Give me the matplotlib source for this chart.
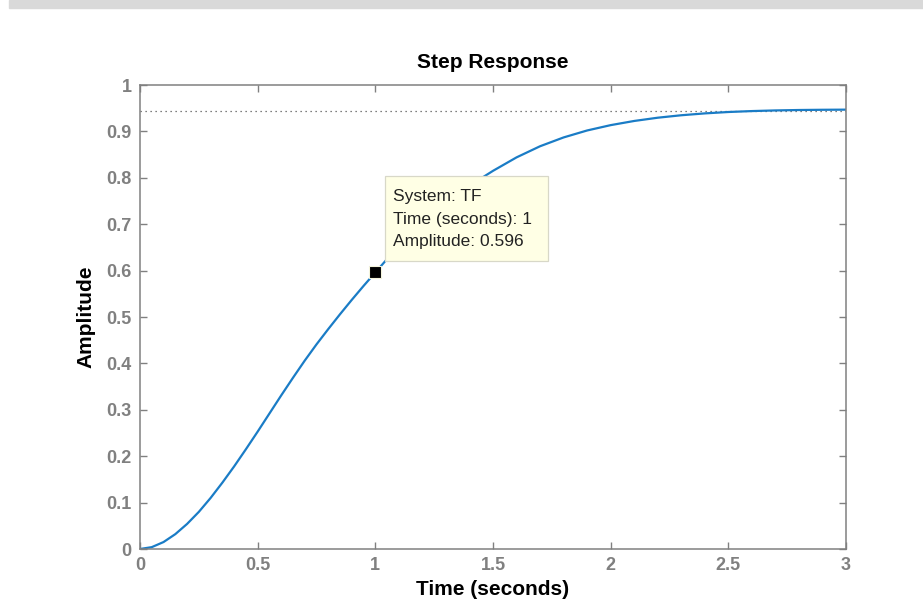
import numpy as np
import matplotlib.pyplot as plt
from matplotlib.patches import Rectangle

plt.rcParams['font.family'] = ['Liberation Sans', 'DejaVu Sans']

# step response
t = [0, 0.05, 0.1, 0.15, 0.2, 0.25, 0.3, 0.35, 0.4, 0.45, 0.5, 0.55, 0.6, 0.65,
     0.7, 0.75, 0.8, 0.85, 0.9, 0.95, 1.0, 1.05, 1.1, 1.15, 1.2, 1.25, 1.3, 1.35,
     1.4, 1.45, 1.5, 1.6, 1.7, 1.8, 1.9, 2.0, 2.1, 2.2, 2.3, 2.4, 2.5, 2.6, 2.7,
     2.8, 2.9, 3.0]
amp = [0, 0.004, 0.015, 0.032, 0.054, 0.080, 0.110, 0.143, 0.178, 0.215, 0.253,
       0.292, 0.331, 0.369, 0.406, 0.441, 0.474, 0.506, 0.537, 0.567, 0.596,
       0.625, 0.652, 0.677, 0.701, 0.723, 0.744, 0.764, 0.782, 0.799, 0.815,
       0.844, 0.868, 0.887, 0.902, 0.9135, 0.9225, 0.9295, 0.9348, 0.9388,
       0.9418, 0.9438, 0.9452, 0.9461, 0.9466, 0.9469]
final_value = 0.945
tip_t = 1
tip_amp = 0.596
tip_lines = ['System: TF', 'Time (seconds): 1', 'Amplitude: 0.596']

xticks = [0, 0.5, 1, 1.5, 2, 2.5, 3]
xticklabels = ['0', '0.5', '1', '1.5', '2', '2.5', '3']
yticks = [0, 0.1, 0.2, 0.3, 0.4, 0.5, 0.6, 0.7, 0.8, 0.9, 1]
yticklabels = ['0', '0.1', '0.2', '0.3', '0.4', '0.5', '0.6', '0.7', '0.8', '0.9', '1']

fig = plt.figure(figsize=(9.23, 6.10), dpi=100)
# grey strip along the top edge
fig.patches.append(Rectangle((9/923, 1-8/610), 1, 8/610, transform=fig.transFigure,
                             color='#d9d9d9', zorder=0))
ax = fig.add_axes([140/923, 1-549/610, 706/923, 464/610])

ax.plot([0, 3], [final_value, final_value], color='#555555', lw=0.9,
        linestyle=(0, (1, 3)), zorder=1)
ax.plot(t, amp, color='#1a7cc6', lw=1.6, zorder=2)

# data tip
ax.plot(tip_t, tip_amp, 's', color='black', ms=8.5, mec='#f4f4dc', mew=0.8, zorder=5)
ax.add_patch(Rectangle((1.041, 0.621), 0.693, 0.183, facecolor='#ffffe5',
                       edgecolor='#d8d8c8', lw=0.9, zorder=4))
for i, s in enumerate(tip_lines):
    ax.text(1.075, 0.749 - i*0.0475, s, fontsize=12.5, color='#222222',
            va='baseline', ha='left', zorder=6)

ax.set_xlim(0, 3)
ax.set_ylim(0, 1)
ax.set_xticks(xticks)
ax.set_xticklabels(xticklabels)
ax.set_yticks(yticks)
ax.set_yticklabels(yticklabels)
for sp in ax.spines.values():
    sp.set_color('#808080')
    sp.set_linewidth(1.1)
ax.tick_params(direction='in', top=True, right=True, length=5, width=1,
               color='#808080', labelcolor='#808080', labelsize=13, pad=6)
for lab in ax.get_xticklabels() + ax.get_yticklabels():
    lab.set_fontweight('bold')

ax.set_title('Step Response', fontsize=15, fontweight='bold', pad=12)
ax.set_xlabel('Time (seconds)', fontsize=15, fontweight='bold', labelpad=4)
ax.set_ylabel('Amplitude', fontsize=15, fontweight='bold', labelpad=8)

fig.savefig('out.png', dpi=100)
